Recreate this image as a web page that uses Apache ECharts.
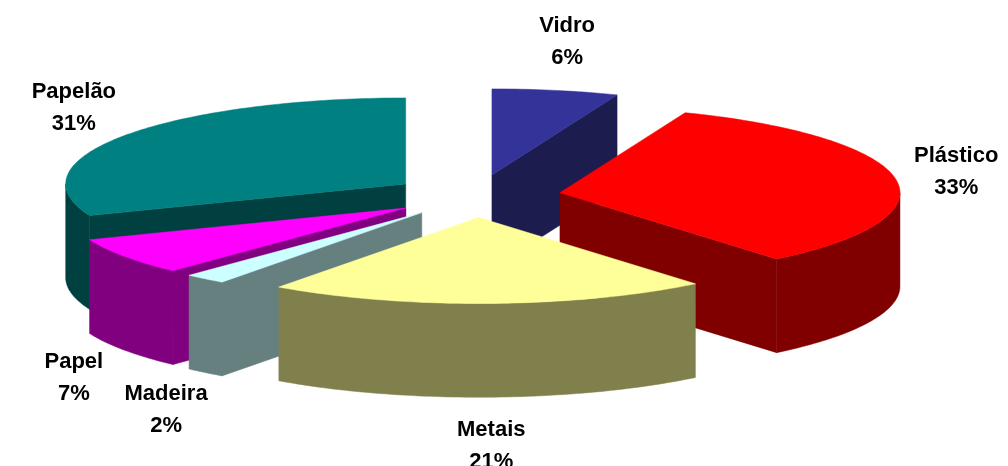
<!DOCTYPE html>
<html><head><meta charset="utf-8">
<script src="https://cdn.jsdelivr.net/npm/echarts@6/dist/echarts.min.js"></script>
<style>html,body{margin:0;padding:0;background:#fff}#chart{width:1008px;height:466px}</style>
</head><body><div id="chart"></div>
<script>
// ---- data ----
const categories = ['Vidro', 'Plástico', 'Metais', 'Madeira', 'Papel', 'Papelão'];
const values = [6, 33, 21, 2, 7, 31];

// ---- styles ----
const topColors  = ['#333399', '#FF0000', '#FFFF99', '#CCFFFF', '#FF00FF', '#008080'];
const sideColors = ['#1C1C4E', '#800000', '#80804D', '#668080', '#800080', '#004040'];

const total = values.reduce((s, v) => s + v, 0);
const starts = []; let acc = 0;
values.forEach(v => { starts.push(acc / total * 360); acc += v; });
const ends = values.map((v, i) => starts[i] + v / total * 360);
const mids = values.map((v, i) => (starts[i] + ends[i]) / 2);

const DEPTH = 1.09, EXPLODE = 0.25;
const rad = d => d * Math.PI / 180;
const order = mids.map((m, i) => i).sort((a, b) => (-Math.cos(rad(mids[a]))) - (-Math.cos(rad(mids[b]))));
const rank = []; order.forEach((idx, r) => rank[idx] = r);

function renderItem(params, api) {
  const i = params.dataIndex;
  const a = starts[i], b = ends[i], m = mids[i];
  const cx = EXPLODE * Math.sin(rad(m)), cy = -EXPLODE * Math.cos(rad(m));
  const P = (th, d) => api.coord([cx + Math.sin(rad(th)), cy - Math.cos(rad(th)) + d]);
  const C = d => api.coord([cx, cy + d]);
  const arc = (t0, t1, d) => {
    const pts = []; const n = Math.max(2, Math.ceil(Math.abs(t1 - t0)));
    for (let k = 0; k <= n; k++) pts.push(P(t0 + (t1 - t0) * k / n, d));
    return pts;
  };
  const z = rank[i] * 10;
  const side = sideColors[i];
  const poly = (pts, color, z2) => ({ type: 'polygon', shape: { points: pts }, style: { fill: color, stroke: color, lineWidth: 0.5 }, z2: z2 });
  const children = [];
  if (Math.sin(rad(a)) < -1e-6) children.push(poly([C(0), P(a, 0), P(a, DEPTH), C(DEPTH)], side, z + 1));
  if (Math.sin(rad(b)) > 1e-6) children.push(poly([C(0), P(b, 0), P(b, DEPTH), C(DEPTH)], side, z + 1));
  const t0 = Math.max(a, 90), t1 = Math.min(b, 270);
  if (t1 > t0) children.push(poly(arc(t0, t1, 0).concat(arc(t0, t1, DEPTH).reverse()), side, z + 2));
  children.push(poly([C(0)].concat(arc(a, b, 0)), topColors[i], z + 3));
  // label
  const lx = 1.43 * Math.sin(rad(m));
  const ly = -1.82 * Math.cos(rad(m)) + (Math.cos(rad(m)) < 0 ? DEPTH : 0);
  const lp = api.coord([lx, ly]);
  children.push({
    type: 'text', z2: 1000,
    style: {
      text: categories[i] + '\n' + values[i] + '%',
      x: lp[0], y: lp[1], align: 'center', verticalAlign: 'middle',
      fontFamily: '"Liberation Sans", Arial, sans-serif', fontWeight: 'bold', fontSize: 22,
      lineHeight: 32, fill: '#000'
    }
  });
  return { type: 'group', children: children };
}

const chart = echarts.init(document.getElementById('chart'), null, { renderer: 'canvas' });
chart.setOption({
  animation: false,
  backgroundColor: '#fff',
  grid: { left: 0, right: 0, top: 0, bottom: 0 },
  xAxis: { type: 'value', min: -1.4, max: 1.5647, show: false },
  yAxis: { type: 'value', inverse: true, min: -2.279, max: 3.1395, show: false },
  series: [{
    type: 'custom',
    coordinateSystem: 'cartesian2d',
    renderItem: renderItem,
    data: values.map((v, i) => ({ name: categories[i], value: [i, v] }))
  }]
});
</script></body></html>
